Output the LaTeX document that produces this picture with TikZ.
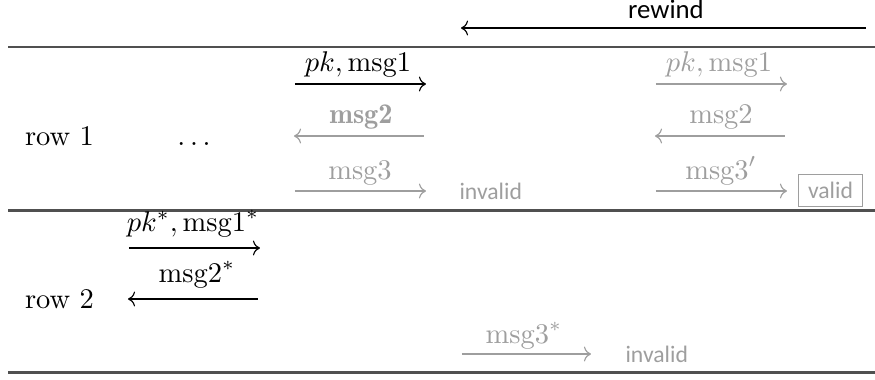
\documentclass[tikz,border=0pt]{standalone}
\usepackage{fontspec}
\newfontfamily\carl{Carlito}
\usetikzlibrary{arrows.meta}
\definecolor{faded}{HTML}{9E9E9E}
\definecolor{rulecol}{HTML}{505050}
\begin{document}
\begin{tikzpicture}[x=0.3509pt,y=-0.3509pt,
  msgarrow/.style={line width=0.4pt,-{Computer Modern Rightarrow}},
  fadedarrow/.style={msgarrow,draw=faded},
  lbl/.style={anchor=base,inner sep=0pt},
  fadedlbl/.style={lbl,text=faded},
  rowlbl/.style={anchor=base,inner sep=0pt},
  sanslbl/.style={anchor=base west,inner sep=0pt,font=\carl\fontsize{8.3}{10}\selectfont,text=faded},
  tablerule/.style={line width=0.75pt,draw=rulecol}]
\useasboundingbox (0,0) rectangle (875,379);
% rules
\coordinate (r1a) at (8,47); \coordinate (r1b) at (875,47);
\coordinate (r2a) at (8,210.5); \coordinate (r2b) at (875,210.5);
\coordinate (r3a) at (8,372.5); \coordinate (r3b) at (875,372.5);
\draw[tablerule] (r1a) -- (r1b);
\draw[tablerule] (r2a) -- (r2b);
\draw[tablerule] (r3a) -- (r3b);
% rewind
\node[anchor=base,inner sep=0pt,font=\carl\fontsize{9.4}{11}\selectfont] (rew) at (666,18) {rewind};
\coordinate (rws) at (866,28); \coordinate (rwe) at (461,28);
\draw[msgarrow] (rws) -- (rwe);
% row 1
\node[rowlbl] (row1) at (59.5,145) {row 1};
\node[rowlbl] (dots) at (194,145) {$\ldots$};
\coordinate (a1s) at (295,84); \coordinate (a1e) at (426,84);
\draw[msgarrow] (a1s) -- (a1e);
\node[lbl] (l1) at (358,71) {$pk, \mathrm{msg1}$};
\coordinate (a2s) at (294,136); \coordinate (a2e) at (424,136);
\draw[fadedarrow] (a2e) -- (a2s);
\node[fadedlbl] (l2) at (361,123) {$\mathbf{msg2}$};
\coordinate (a3s) at (295,191); \coordinate (a3e) at (426,191);
\draw[fadedarrow] (a3s) -- (a3e);
\node[fadedlbl] (l3) at (360,179) {$\mathrm{msg3}$};
\node[sanslbl] (inv1) at (459,199) {invalid};
% rewound column
\coordinate (b1s) at (656,84); \coordinate (b1e) at (787,84);
\draw[fadedarrow] (b1s) -- (b1e);
\node[fadedlbl] (m1) at (719,71) {$pk, \mathrm{msg1}$};
\coordinate (b2s) at (655,136); \coordinate (b2e) at (785,136);
\draw[fadedarrow] (b2e) -- (b2s);
\node[fadedlbl] (m2) at (721,123) {$\mathrm{msg2}$};
\coordinate (b3s) at (656,191); \coordinate (b3e) at (787,191);
\draw[fadedarrow] (b3s) -- (b3e);
\node[fadedlbl] (m3) at (721,179) {$\mathrm{msg3}'$};
\node[draw=faded,line width=0.4pt,text=faded,font=\carl\fontsize{8.3}{10}\selectfont,minimum width=22.6pt,inner xsep=2pt,inner ysep=0pt,minimum height=11.4pt] (valid) at (830.5,190.5) {valid};
% row 2
\node[rowlbl] (row2) at (59.5,308) {row 2};
\coordinate (c1s) at (129,248); \coordinate (c1e) at (260,248);
\draw[msgarrow] (c1s) -- (c1e);
\node[lbl] (n1) at (193,231) {$pk^{*}, \mathrm{msg1}^{*}$};
\coordinate (c2s) at (128,299); \coordinate (c2e) at (258,299);
\draw[msgarrow] (c2e) -- (c2s);
\node[lbl] (n2) at (197,282) {$\mathrm{msg2}^{*}$};
\coordinate (c3s) at (462,354); \coordinate (c3e) at (591,354);
\draw[fadedarrow] (c3s) -- (c3e);
\node[fadedlbl] (n3) at (524,343) {$\mathrm{msg3}^{*}$};
\node[sanslbl] (inv2) at (625,362) {invalid};
\end{tikzpicture}
\end{document}
